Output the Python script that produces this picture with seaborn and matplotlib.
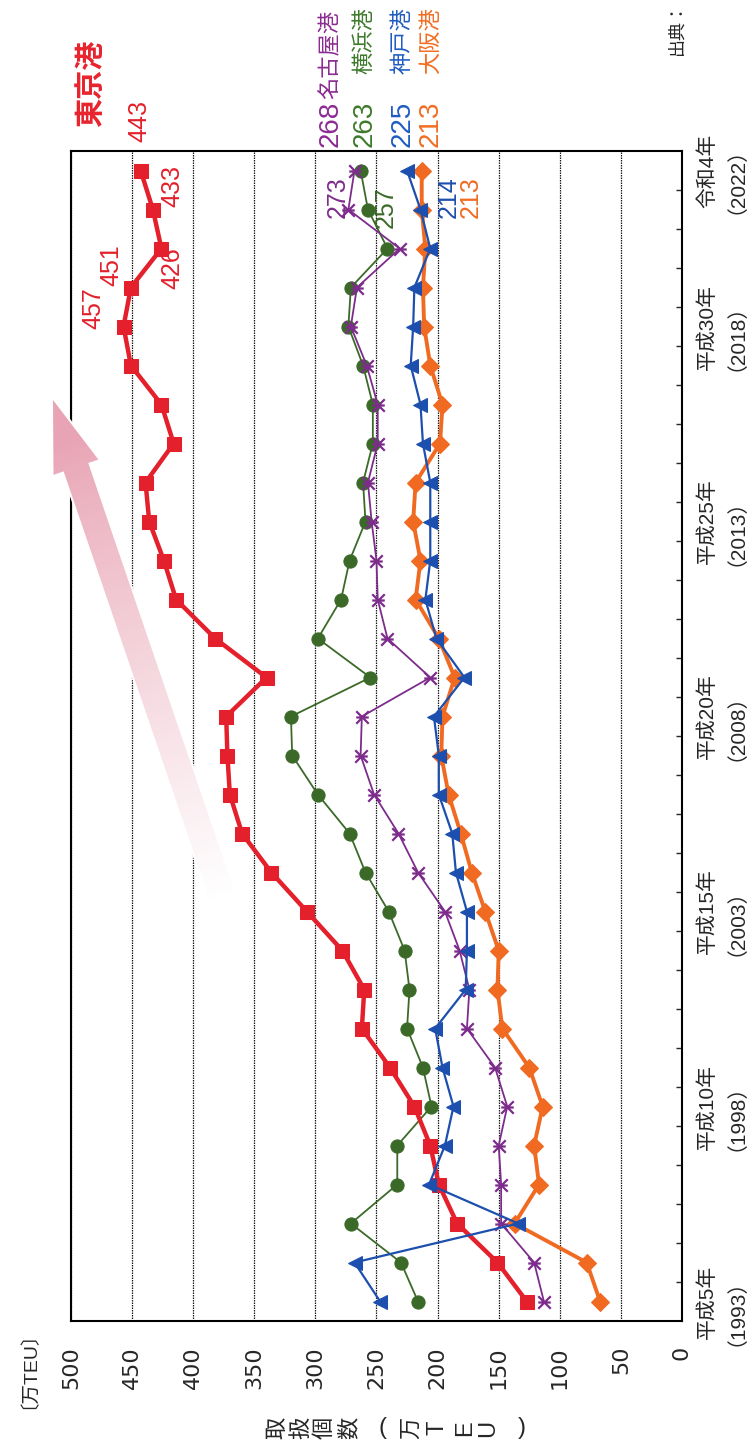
import numpy as np
import pandas as pd
import matplotlib
matplotlib.use("Agg")
import matplotlib.pyplot as plt
from matplotlib.path import Path
from matplotlib.patches import Polygon
import seaborn as sns

# ---- data: container throughput, 10k TEU ----
years = list(range(1993, 2023))
tokyo = [127, 151, 184, 199, 206, 219, 239, 262, 260, 278, 307, 336, 360, 370, 372,
         373, 340, 382, 414, 424, 436, 439, 416, 426, 451, 457, 451, 426, 433, 443]
yokohama = [216, 230, 271, 233, 233, 205, 212, 225, 223, 227, 240, 259, 272, 298, 319,
            320, 255, 298, 279, 272, 259, 261, 253, 253, 261, 273, 271, 241, 257, 263]
nagoya = [113, 121, 148, 148, 150, 143, 153, 176, 174, 182, 194, 216, 232, 252, 263,
          262, 206, 241, 249, 250, 254, 257, 249, 249, 258, 271, 266, 231, 273, 268]
kobe = [247, 268, 134, 207, 194, 187, 196, 202, 177, 176, 176, 185, 188, 199, 199,
        203, 178, 201, 210, 206, 206, 206, 212, 214, 222, 220, 219, 206, 214, 225]
osaka = [67, 78, 137, 117, 121, 114, 125, 147, 151, 150, 161, 172, 181, 191, 197,
         196, 186, 199, 218, 214, 220, 218, 198, 196, 206, 211, 212, 210, 213, 213]

year_ticks = [1993, 1998, 2003, 2008, 2013, 2018, 2022]
year_tick_labels = ["平成5年\n（1993）", "平成10年\n（1998）", "平成15年\n（2003）",
                    "平成20年\n（2008）", "平成25年\n（2013）", "平成30年\n（2018）",
                    "令和4年\n（2022）"]
value_ticks = list(range(0, 501, 50))

RED, GREEN, PURPLE, BLUE, ORANGE = "#e3202b", "#3b6a28", "#7d2c8c", "#1c4fae", "#f06a22"

sns.set_style("white")
plt.rcParams["font.family"] = ["Liberation Sans", "Noto Sans CJK JP", "DejaVu Sans"]

W, H = 747, 1455
fig = plt.figure(figsize=(W / 100, H / 100), dpi=100)
ax = fig.add_axes([71 / W, 1 - 1321 / H, 611 / W, 1170 / H])

pos = np.arange(len(years))
frames = []
for name, vals in [("東京港", tokyo), ("横浜港", yokohama), ("名古屋港", nagoya),
                   ("神戸港", kobe), ("大阪港", osaka)]:
    frames.append(pd.DataFrame({"port": name, "pos": pos, "year": years, "value": vals}))
df = pd.concat(frames, ignore_index=True)

# asterisk marker: an X crossed by a line along the value axis
star = Path([(-1, -1), (1, 1), (-1, 1), (1, -1), (-1, 0), (1, 0)],
            [Path.MOVETO, Path.LINETO, Path.MOVETO, Path.LINETO, Path.MOVETO, Path.LINETO])

styles = {
    "大阪港": dict(color=ORANGE, marker="D", markersize=9, linewidth=2.8, zorder=3),
    "横浜港": dict(color=GREEN, marker="o", markersize=9.5, linewidth=1.3, zorder=4),
    "名古屋港": dict(color=PURPLE, marker=star, markersize=9, linewidth=1.3,
                  markeredgewidth=1.6, zorder=5),
    "東京港": dict(color=RED, marker="s", markersize=9.5, linewidth=3.2, zorder=6),
    "神戸港": dict(color=BLUE, marker="<", markersize=10.5, linewidth=1.6, zorder=7),
}
for port, st in styles.items():
    sub = df[df["port"] == port]
    c = st["color"]
    sns.lineplot(data=sub, x="value", y="pos", ax=ax, sort=False, estimator=None,
                 orient="y", markeredgecolor=c, markerfacecolor=c, **st)

ax.set_xlim(500, 0)
ax.set_ylim(-0.5, len(years) - 0.5)
ax.set_xlabel("")
ax.set_ylabel("")

# value axis (along the bottom)
ax.set_xticks(value_ticks)
ax.set_xticklabels([str(v) for v in value_ticks], rotation=90,
                   fontfamily="DejaVu Sans", fontsize=16)
ax.tick_params(axis="x", length=0, pad=18)
ax.grid(axis="x", color="#1a1a1a", linestyle=(0, (1.2, 0.8)), linewidth=0.9)
ax.grid(axis="y", visible=False)

# year axis (along the right)
ax.yaxis.tick_right()
ax.set_yticks([years.index(y) for y in year_ticks])
ax.set_yticklabels(year_tick_labels, fontsize=15)
ax.set_yticks(np.arange(0.5, len(years) - 1, 1.0), minor=True)
ax.tick_params(axis="y", which="major", length=0, pad=11)
ax.tick_params(axis="y", which="minor", direction="in", length=4.5, width=1.0,
               right=True, left=False)
for lab in ax.get_yticklabels():
    lab.set_rotation(90)
    lab.set_ha("left")
    lab.set_va("center")
    lab.set_multialignment("center")
    lab.set_linespacing(0.95)

for sp in ax.spines.values():
    sp.set_color("black")
    sp.set_linewidth(1.5)

# value labels next to points
n = len(years) - 1
notes = [
    (tokyo, n, (-1, 36), RED), (tokyo, n - 1, (14, 17), RED),
    (tokyo, n - 2, (8, -14), RED), (tokyo, n - 3, (-14, 16), RED),
    (tokyo, n - 4, (-22, 13), RED),
    (nagoya, n - 1, (-8, 9), PURPLE), (yokohama, n - 1, (13, 2), GREEN),
    (kobe, n - 1, (20, 9), BLUE), (osaka, n - 1, (35, 9), ORANGE),
]
for vals, i, off, col in notes:
    ax.annotate(str(vals[i]), xy=(vals[i], i), xytext=off, textcoords="offset points",
                rotation=90, ha="center", va="center", color=col, fontsize=18,
                annotation_clip=False)


def fx(x):
    return x / W


def fy(y):
    return 1 - y / H


fig.text(fx(91), fy(83), "東京港", rotation=90, ha="center", va="center",
         color="#e8242e", fontsize=21, fontweight="bold")

heads = [(nagoya, "名古屋港", 331, 10, "#8b2b92"), (yokohama, "横浜港", 365, 7, "#3d7a2b"),
         (kobe, "神戸港", 403, 7, "#1f5cc0"), (osaka, "大阪港", 431, 7, "#f26d22")]
for vals, name, x, yend, col in heads:
    fig.text(fx(x), fy(147), str(vals[-1]), rotation=90, rotation_mode="anchor",
             ha="left", va="center", color=col, fontsize=20)
    fig.text(fx(x), fy(yend), name, rotation=90, rotation_mode="anchor",
             ha="right", va="center", color=col, fontsize=16)

fig.text(fx(19), fy(1360), "〔万TEU〕", rotation=90, ha="center", va="center",
         fontsize=14)
fig.text(fx(677), fy(55), "出典：", rotation=90, rotation_mode="anchor",
         ha="left", va="center", fontsize=13)

# axis title, one glyph at a time
title_chars = ["取", "扱", "個", "数", "(", "万", "T", "E", "U", ")"]
title_x = [278, 302, 325, 350, 382, 412, 438, 465, 488, 522]
for ch, x in zip(title_chars, title_x):
    upright = ch in "()"
    fig.text(fx(x), fy(1428), ch, rotation=0 if upright else 90, ha="center",
             va="center", fontsize=17 if ch.isascii() else 16)

# growth arrow with a fading fill
ov = fig.add_axes([0, 0, 1, 1], zorder=5)
ov.set_xlim(0, W)
ov.set_ylim(H, 0)
ov.axis("off")
tip = np.array([53.0, 400.0])
tail = np.array([222.0, 895.0])
u = (tail - tip) / np.linalg.norm(tail - tip)
nv = np.array([-u[1], u[0]])
base = tip + 71 * u
verts = [tip, base + 23.7 * nv, base + 13 * nv, tail + 13 * nv,
         tail - 13 * nv, base - 13 * nv, base - 23.7 * nv]
outline = Polygon(verts, closed=True, facecolor="white", edgecolor="white",
                  linewidth=3, zorder=1)
ov.add_patch(outline)
clip = Polygon(verts, closed=True, facecolor="none", edgecolor="none")
ov.add_patch(clip)
x0, x1, y0, y1 = 30, 250, 380, 920
gx, gy = np.meshgrid(np.arange(x0, x1), np.arange(y0, y1))
t = ((gx - tip[0]) * u[0] + (gy - tip[1]) * u[1]) / np.linalg.norm(tail - tip)
s = np.clip((t - 0.08) / 0.92, 0, 1) ** 0.85
pink = np.array([232, 163, 180]) / 255
img = pink[None, None, :] * (1 - s[..., None]) + s[..., None]
im = ov.imshow(img, extent=(x0, x1, y1, y0), aspect="auto", interpolation="bilinear",
               zorder=2)
im.set_clip_path(clip)
ov.set_xlim(0, W)
ov.set_ylim(H, 0)

fig.savefig("out.png", dpi=100, facecolor="white")
